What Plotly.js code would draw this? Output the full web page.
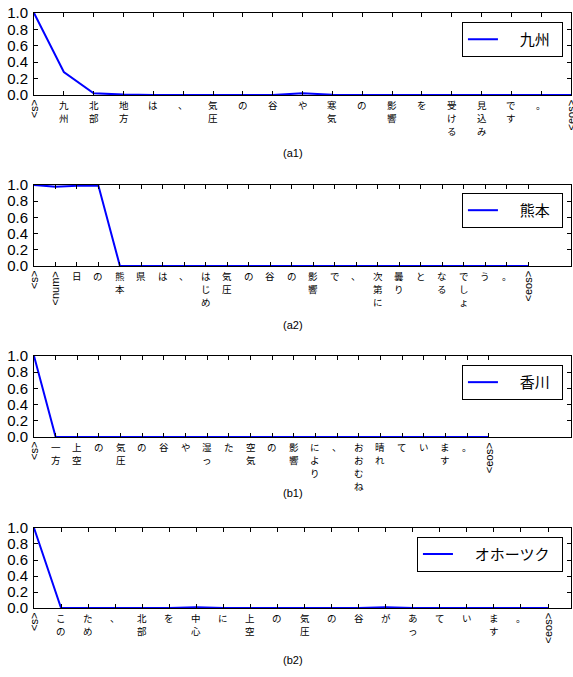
<!DOCTYPE html>
<html>
<head>
<meta charset="utf-8">
<script src="https://cdn.plot.ly/plotly-3.0.1.min.js"></script>
<style>html,body{margin:0;padding:0;background:#fff;}#chart{width:573px;height:677px;}</style>
</head>
<body>
<div id="chart"></div>
<script>
// ---- data ----
const tokensA1 = ["<s>","九州","北部","地方","は","、","気圧","の","谷","や","寒気","の","影響","を","受ける","見込み","です","。","<eos>"];
const valuesA1 = [1.0,0.28,0.02,0.005,0,0,0,0,0,0.02,0.004,0,0,0,0,0,0,0,0];
const legendA1 = "九州";
const captionA1 = "(a1)";

const tokensA2 = ["<s>","<num>","日","の","熊本","県","は","、","はじめ","気圧","の","谷","の","影響","で","、","次第に","曇り","と","なる","でしょ","う","。","<eos>"];
const valuesA2 = [1.0,0.98,0.99,0.99,0,0,0,0,0,0,0,0,0,0,0,0,0,0,0,0,0,0,0,0];
const legendA2 = "熊本";
const captionA2 = "(a2)";

const tokensB1 = ["<s>","一方","上空","の","気圧","の","谷","や","湿っ","た","空気","の","影響","により","、","おおむね","晴れ","て","い","ます","。","<eos>"];
const valuesB1 = [1.0,0,0,0,0,0,0,0,0,0,0,0,0,0.008,0,0,0.006,0,0.008,0,0,0];
const legendB1 = "香川";
const captionB1 = "(b1)";

const tokensB2 = ["<s>","この","ため","、","北部","を","中心","に","上空","の","気圧","の","谷","が","あっ","て","い","ます","。","<eos>"];
const valuesB2 = [1.0,0,0,0,0,0,0.01,0,0,0,0,0,0,0.01,0,0,0,0,0,0];
const legendB2 = "オホーツク";
const captionB2 = "(b2)";

const yTickVals = [0,0.2,0.4,0.6,0.8,1.0];
const yTickText = ["0.0","0.2","0.4","0.6","0.8","1.0"];

// ---- layout config ----
const panels = [
  {tokens: tokensA1, values: valuesA1, name: legendA1, caption: captionA1, xmax: 18, dom: [0.8597,0.9808], legY: 0.9675, capY: 0.774},
  {tokens: tokensA2, values: valuesA2, name: legendA2, caption: captionA2, xmax: 25, dom: [0.6071,0.7267], legY: 0.715, capY: 0.520},
  {tokens: tokensB1, values: valuesB1, name: legendB1, caption: captionB1, xmax: 24.8, dom: [0.3545,0.4742], legY: 0.461, capY: 0.272},
  {tokens: tokensB2, values: valuesB2, name: legendB2, caption: captionB2, xmax: 19.85, dom: [0.1019,0.2201], legY: 0.207, capY: 0.025}
];

const CJK = "Noto Sans CJK JP";
const LAT = "Liberation Sans, Arial, sans-serif";
const NB = "\u00a0";
const CJK_SIZE = 9.5;
const CJK_STEP = 12.9;

const data = [];
const layout = {
  width: 573, height: 677,
  margin: {l: 34, r: 2, t: 0, b: 0},
  paper_bgcolor: "#fff", plot_bgcolor: "#fff",
  showlegend: true,
  annotations: []
};

panels.forEach((p, i) => {
  const n = i + 1;
  const xa = n === 1 ? "xaxis" : "xaxis" + n;
  const ya = n === 1 ? "yaxis" : "yaxis" + n;
  const xr = n === 1 ? "x" : "x" + n;
  const yr = n === 1 ? "y" : "y" + n;
  const lg = n === 1 ? "legend" : "legend" + n;
  const idx = p.tokens.map((_, k) => k);

  data.push({
    type: "scatter", mode: "lines",
    x: idx, y: p.values,
    name: NB.repeat(5) + p.name + NB.repeat(2),
    xaxis: xr, yaxis: yr, legend: lg,
    line: {color: "#0000ff", width: 2}
  });

  layout[xa] = {
    domain: [0, 1], anchor: yr,
    range: [0, p.xmax],
    tickvals: idx, showticklabels: false,
    ticks: "inside", ticklen: 4, tickcolor: "#000", tickwidth: 1,
    showline: true, linecolor: "#000", linewidth: 1, mirror: "ticks",
    showgrid: false, zeroline: false, fixedrange: true
  };
  layout[ya] = {
    domain: p.dom, anchor: xr,
    range: [0, 1],
    tickvals: yTickVals, ticktext: yTickText,
    ticks: "inside", ticklen: 4, tickcolor: "#000", tickwidth: 1,
    showline: true, linecolor: "#000", linewidth: 1, mirror: "ticks",
    showgrid: false, zeroline: false, fixedrange: true,
    tickfont: {family: LAT, size: 15, color: "#000"},
    ticklabelstandoff: 2
  };
  layout[lg] = {
    x: 0.985, y: p.legY, xanchor: "right", yanchor: "top",
    xref: "paper", yref: "paper",
    bgcolor: "#fff", bordercolor: "#000", borderwidth: 1,
    font: {family: CJK, size: 15, color: "#000"},
    itemwidth: 30
  };

  // x tick labels: CJK stacked vertically char by char, ASCII tokens rotated
  p.tokens.forEach((t, k) => {
    const ascii = /^[\x00-\x7f]+$/.test(t);
    if (ascii) {
      layout.annotations.push({
        x: k, y: 0, xref: xr, yref: yr + " domain",
        xanchor: "center", yanchor: "top", yshift: -4,
        text: t.replace(/</g, "&lt;").replace(/>/g, "&gt;"),
        textangle: -90, showarrow: false, borderpad: 0,
        font: {family: LAT, size: 11, color: "#000"}
      });
    } else {
      Array.from(t).forEach((ch, j) => {
        layout.annotations.push({
          x: k, y: 0, xref: xr, yref: yr + " domain",
          xanchor: "center", yanchor: "top", yshift: -2 - j * CJK_STEP,
          text: ch, showarrow: false, borderpad: 0,
          font: {family: CJK, size: CJK_SIZE, color: "#000"}
        });
      });
    }
  });

  layout.annotations.push({
    x: 0.482, y: p.capY, xref: "paper", yref: "paper",
    xanchor: "center", yanchor: "middle",
    text: p.caption, showarrow: false,
    font: {family: LAT, size: 11, color: "#000"}
  });
});

Plotly.newPlot("chart", data, layout, {displayModeBar: false, staticPlot: true});
</script>
</body>
</html>
